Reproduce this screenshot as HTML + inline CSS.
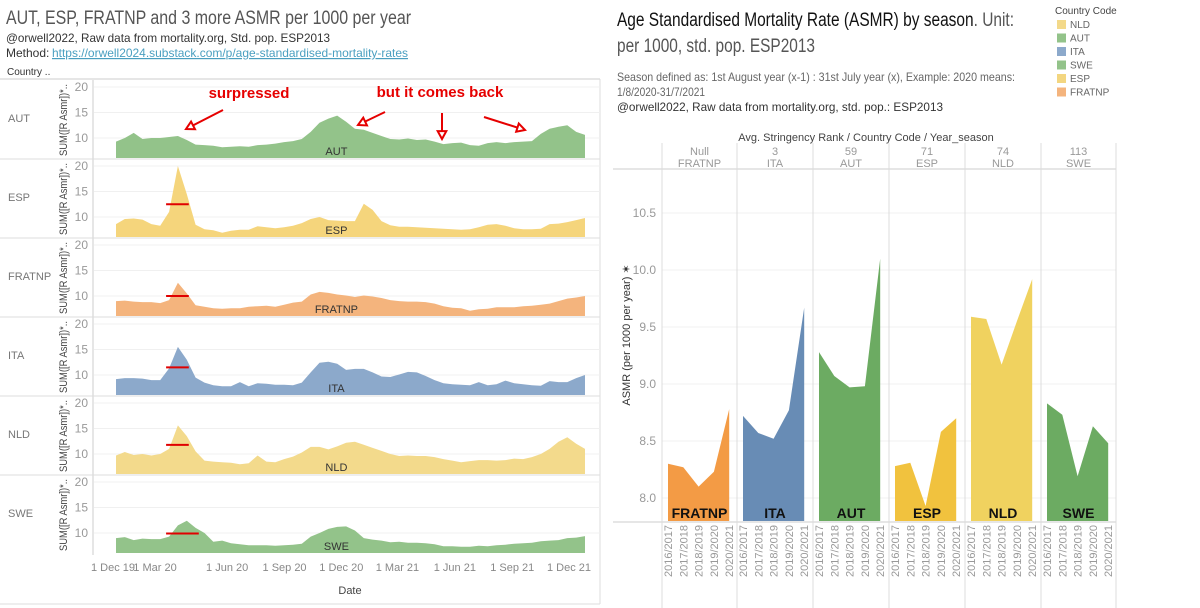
<!DOCTYPE html>
<html><head><meta charset="utf-8"><style>
body{margin:0;width:1200px;height:608px;background:#fff;overflow:hidden;font-family:"Liberation Sans",sans-serif;}
svg{position:absolute;left:0;top:0}
</style></head><body>
<svg id="c" width="1200" height="608"></svg>
<script>
// ---------- left panel data (biweekly, 1 Dec 2019 .. Dec 2021) ----------
const countries = ["AUT","ESP","FRATNP","ITA","NLD","SWE"];
const aut = [9.3,10.0,11.0,9.8,10.0,10.0,10.2,10.4,9.6,8.7,8.6,8.5,8.2,8.3,8.4,8.3,8.6,8.7,8.9,9.2,9.4,9.8,11.2,13.0,13.8,14.4,13.2,11.8,11.6,11.0,10.4,9.8,9.7,9.9,9.6,9.7,9.3,8.8,9.0,9.1,8.6,8.5,9.0,9.2,9.0,9.2,9.3,9.4,10.8,11.8,12.2,12.5,11.2,10.6];
const esp = [8.6,9.6,9.7,9.5,8.6,8.3,11.0,20.0,14.5,8.5,7.6,7.4,6.9,7.3,7.5,7.5,8.2,8.0,7.8,8.0,8.3,8.8,9.6,10.0,9.4,9.3,9.2,9.2,12.6,11.4,9.2,8.4,8.1,8.1,8.0,7.9,7.8,7.7,7.6,7.5,7.6,8.0,8.5,8.6,8.3,7.8,7.6,7.6,7.7,8.6,8.7,9.0,9.4,9.8];
const fra = [9.0,9.1,8.9,8.8,8.8,8.6,9.2,12.6,10.5,8.2,7.9,7.6,7.5,7.6,7.6,7.9,8.0,8.1,7.9,8.3,8.7,8.9,10.3,10.8,10.6,10.3,10.1,9.8,10.1,9.9,9.6,9.2,9.0,8.9,8.9,8.8,8.5,8.0,7.7,7.6,7.1,7.4,7.5,7.8,7.8,7.8,8.0,8.1,8.3,8.5,9.0,9.5,9.7,10.0];
const ita = [9.2,9.4,9.4,9.3,9.0,9.0,11.3,15.5,13.0,9.5,8.5,8.0,7.8,7.8,8.6,7.8,8.4,8.3,8.1,8.1,8.0,8.5,10.5,12.4,12.6,12.2,11.0,11.2,11.2,10.5,9.7,9.6,10.1,10.6,10.5,9.8,9.0,8.4,8.2,8.1,8.0,8.6,8.0,8.2,8.9,8.4,8.2,8.0,7.9,8.8,8.6,8.6,9.4,10.0];
const nld = [9.7,10.4,9.8,10.0,9.7,10.0,11.0,15.6,13.5,10.5,8.7,8.5,8.4,8.3,8.0,8.2,9.7,8.5,8.4,9.0,9.5,10.3,11.4,11.4,10.9,11.5,12.2,12.4,11.8,11.2,10.6,10.0,9.6,9.7,9.6,9.6,9.4,9.0,8.7,8.4,8.6,8.8,8.8,8.7,8.8,9.1,9.0,9.4,10.0,11.0,12.4,13.3,12.0,11.0];
const swe = [9.0,9.2,8.6,8.9,8.8,8.8,9.3,11.5,12.4,11.0,10.0,8.3,8.5,8.0,7.8,7.6,7.6,7.6,7.5,7.6,7.7,7.9,9.3,10.0,10.8,11.2,11.3,10.5,9.0,8.7,8.5,8.2,8.3,8.1,8.1,8.0,7.8,7.4,7.4,7.3,7.3,7.5,7.4,7.6,7.7,7.9,8.0,8.1,8.4,8.5,8.6,9.0,9.1,9.4];
const medians = [null,12.5,10.0,11.5,11.8,9.9];
const yTicksL = [10,15,20];
const dateLabels = ["1 Dec 19","1 Mar 20","1 Jun 20","1 Sep 20","1 Dec 20","1 Mar 21","1 Jun 21","1 Sep 21","1 Dec 21"];
const dateDays = [0,91,183,275,366,456,548,640,731];
// ---------- right chart data ----------
const panelsR = ["FRATNP","ITA","AUT","ESP","NLD","SWE"];
const ranksR = ["Null","3","59","71","74","113"];
const seasons = ["2016/2017","2017/2018","2018/2019","2019/2020","2020/2021"];
const rFRA = [8.30,8.27,8.10,8.23,8.78];
const rITA = [8.72,8.57,8.52,8.77,9.67];
const rAUT = [9.28,9.07,8.97,8.98,10.10];
const rESP = [8.28,8.31,7.93,8.58,8.70];
const rNLD = [9.59,9.57,9.17,9.55,9.92];
const rSWE = [8.83,8.73,8.19,8.63,8.48];
const yTicksR = [8.0,8.5,9.0,9.5,10.0,10.5];

const NS="http://www.w3.org/2000/svg", svg=document.getElementById('c');
function mk(t,a,p){const e=document.createElementNS(NS,t);for(const k in a)e.setAttribute(k,a[k]);(p||svg).appendChild(e);return e;}
function tx(x,y,s,a,p){const e=mk('text',Object.assign({x:x,y:y},a),p);e.textContent=s;return e;}

// ---------- left ----------
const L = mk('g',{});


const series=[aut,esp,fra,ita,nld,swe];
const fills=["#93c38a","#f5d57c","#f4b47d","#8ca9cb","#f3da8c","#93c38a"];
const pTop=80,pH=79,x0=116,x1=585;
const xL = i=> x0 + i*(x1-x0)/(aut.length-1);
const xDay = d=> 113 + d*(569-113)/731;
const yL = (p,v)=> pTop+p*pH+58-(v-10)*5.1;
mk('line',{x1:0,y1:79,x2:600,y2:79,stroke:"#ccc"},L);
mk('line',{x1:93,y1:80,x2:93,y2:555,stroke:"#ccc"},L);
mk('line',{x1:600,y1:79,x2:600,y2:604,stroke:"#ddd"},L);
mk('line',{x1:0,y1:604,x2:600,y2:604,stroke:"#ddd"},L);
series.forEach((s,p)=>{
  const top=pTop+p*pH, bot=top+pH-1;
  yTicksL.forEach(t=>{mk('line',{x1:94,x2:600,y1:yL(p,t),y2:yL(p,t),stroke:"#f0f0f0"},L);
    const tl=tx(88,yL(p,t)+4,String(t),{"font-size":12,fill:"#999","text-anchor":"end"},L);
    
    });
  let d="M"+xL(0)+","+bot;
  s.forEach((v,i)=>{d+=" L"+xL(i).toFixed(1)+","+Math.min(bot,yL(p,v)).toFixed(1);});
  d+=" L"+xL(s.length-1)+","+bot+" Z";
  const a=mk('path',{d:d,fill:fills[p]},L);
  
  
  const cl=tx(x0+(x1-x0)*0.47,top+75,countries[p],{"font-size":11,fill:"#333","text-anchor":"middle"},L);
  
  
  const rl=tx(8,top+42,countries[p],{"font-size":11,fill:"#777"},L);
  
  
  const yt=tx(0,0,"SUM([R Asmr])*..",{"font-size":11,fill:"#444","text-anchor":"middle",textLength:72,lengthAdjust:"spacingAndGlyphs",transform:"translate(67,"+(top+40)+") rotate(-90)"},L);
  
  
  if(p<5) mk('line',{x1:0,x2:600,y1:top+pH,y2:top+pH,stroke:"#ddd"},L);
  if(medians[p]!==null){
    const m=mk('line',{x1:xL(6)-3,x2:xL(8)+ (p==5?12:2),y1:yL(p,medians[p]),y2:yL(p,medians[p]),stroke:"#e00000","stroke-width":2},L);
    
    
  }
});
dateLabels.forEach((s,i)=>{const t=tx(i==1?155:xDay(dateDays[i]),571,s,{"font-size":11,fill:"#888","text-anchor":"middle"},L);
  
  });
const dt=tx(350,594,"Date",{"font-size":11,fill:"#444","text-anchor":"middle"},L);


// titles
let e=tx(6,24,"AUT, ESP, FRATNP and 3 more ASMR per 1000 per year",{"font-size":19,fill:"#555",textLength:405,lengthAdjust:"spacingAndGlyphs"});

e=tx(6,42,"@orwell2022,  Raw data from mortality.org, Std. pop. ESP2013",{"font-size":12,fill:"#333",textLength:324,lengthAdjust:"spacingAndGlyphs"});

e=tx(6,57,"Method: ",{"font-size":12,fill:"#333"});

e=tx(52,57,"https://orwell2024.substack.com/p/age-standardised-mortality-rates",{"font-size":12,fill:"#4a9fc0","text-decoration":"underline",textLength:356,lengthAdjust:"spacingAndGlyphs"});

e=tx(7,75,"Country ..",{"font-size":10,fill:"#333"});

// annotations
const red="#e60000";
e=tx(249,98,"surpressed",{"font-size":15,"font-weight":"bold",fill:red,"text-anchor":"middle"});

e=tx(440,97,"but it comes back",{"font-size":15,"font-weight":"bold",fill:red,"text-anchor":"middle"});

[[223,110,186,129],[385,112,358,125],[442,113,442,139],[484,117,525,130]].forEach(a=>{
  const g=mk('g',{stroke:red,"stroke-width":2,fill:"none"});
  
  
  mk('line',{x1:a[0],y1:a[1],x2:a[2],y2:a[3]},g);
  const ang=Math.atan2(a[3]-a[1],a[2]-a[0]),h=9;
  const p1=[a[2]-h*Math.cos(ang-0.5),a[3]-h*Math.sin(ang-0.5)],p2=[a[2]-h*Math.cos(ang+0.5),a[3]-h*Math.sin(ang+0.5)];
  mk('polygon',{points:a[2]+","+a[3]+" "+p1.join(",")+" "+p2.join(","),fill:"#fff"},g);
});

// ---------- right ----------
const R=mk('g',{});


const rSeries=[rFRA,rITA,rAUT,rESP,rNLD,rSWE];
const rFill=["#f39b45","#688cb5","#6cab62","#f1c23e","#f0d25f","#6cab62"];
const divs=[662,737,813,889,965,1041,1116];
const yR=v=>498-(v-8.0)*114;
const base=521;
mk('line',{x1:613,x2:1116,y1:169,y2:169,stroke:"#ccc"},R);
mk('line',{x1:613,x2:1116,y1:522,y2:522,stroke:"#ccc"},R);
yTicksR.forEach(t=>{mk('line',{x1:662,x2:1116,y1:yR(t),y2:yR(t),stroke:"#f0f0f0"},R);
  const l=tx(656,yR(t)+4,t.toFixed(1),{"font-size":12,fill:"#999","text-anchor":"end"},R);
  
  });
divs.forEach(x=>mk('line',{x1:x,x2:x,y1:143,y2:608,stroke:"#ddd"},R));
e=tx(0,0,"ASMR (per 1000 per year) ✶",{"font-size":11,fill:"#333","text-anchor":"middle",transform:"translate(630,335) rotate(-90)"},R);

e=tx(866,141,"Avg. Stringency Rank  /  Country Code  /  Year_season",{"font-size":11,fill:"#444","text-anchor":"middle"},R);

rSeries.forEach((s,p)=>{
  const L0=divs[p], w=divs[p+1]-divs[p];
  const xs=i=>L0+6+i*15.3;
  let d="M"+xs(0)+","+base;
  s.forEach((v,i)=>d+=" L"+xs(i).toFixed(1)+","+yR(v).toFixed(1));
  d+=" L"+xs(4)+","+base+" Z";
  const a=mk('path',{d:d,fill:rFill[p]},R);
  
  
  const c=L0+w/2;
  let t=tx(c,155,ranksR[p],{"font-size":11,fill:"#999","text-anchor":"middle"},R);
  
  t=tx(c,167,panelsR[p],{"font-size":11,fill:"#999","text-anchor":"middle"},R);
  
  t=tx(c,518,panelsR[p],{"font-size":14,"font-weight":"bold",fill:"#111","text-anchor":"middle"},R);
  
  seasons.forEach((sn,i)=>{const q=tx(0,0,sn,{"font-size":11,fill:"#999","text-anchor":"end",transform:"translate("+(xs(i)+4)+",525) rotate(-90)"},R);
    
    });
});
// right titles
e=tx(617,26,"",{"font-size":19,fill:"#111",textLength:397,lengthAdjust:"spacingAndGlyphs"});

const ts1=mk('tspan',{},e);ts1.textContent="Age Standardised Mortality Rate (ASMR) by season";
const ts2=mk('tspan',{fill:"#555"},e);ts2.textContent=". Unit:";
e=tx(617,52,"per 1000, std. pop. ESP2013",{"font-size":19,fill:"#555",textLength:198,lengthAdjust:"spacingAndGlyphs"});

[["Season defined as: 1st August year (x-1) : 31st July  year (x), Example: 2020 means:",81,398],["1/8/2020-31/7/2021",96,88],["@orwell2022,  Raw data from mortality.org, std. pop.: ESP2013",111,326]].forEach((r,i)=>{
  const q=tx(617,r[1],r[0],{"font-size":12,fill:i==2?"#333":"#666",textLength:r[2],lengthAdjust:"spacingAndGlyphs"});
  });
// legend
const lg=mk('g',{});


tx(1055,14,"Country Code",{"font-size":10,fill:"#444"},lg);
const legN=["NLD","AUT","ITA","SWE","ESP","FRATNP"], legC=["#f3d98a","#93c38a","#8ca9cb","#93c38a","#f3d680","#f4b47d"];
legN.forEach((n,i)=>{const g=mk('g',{},lg);
  
  
  mk('rect',{x:1057,y:20+i*13.5,width:9,height:9,fill:legC[i]},g);
  tx(1070,28+i*13.5,n,{"font-size":10,fill:"#666"},g);});
</script>
</body></html>
